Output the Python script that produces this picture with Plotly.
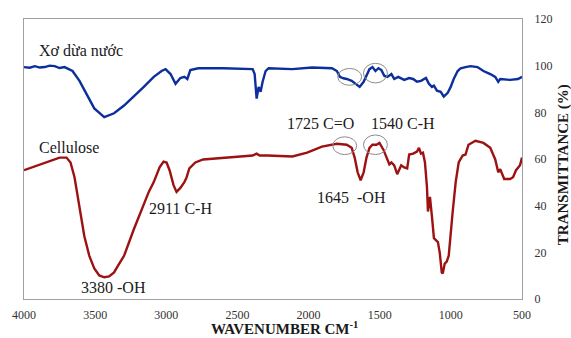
import plotly.graph_objects as go

# FTIR spectra: wavenumber (cm-1) vs transmittance (%)
coir_wn = [4000, 3960, 3923, 3890, 3854, 3820, 3784, 3750, 3715, 3690, 3659, 3610, 3562, 3506,
           3436, 3367, 3297, 3228, 3158, 3088, 3033, 3005, 2970, 2935, 2901, 2873, 2852,
           2831, 2775, 2601, 2393, 2379, 2365, 2351, 2337, 2323, 2302, 2281, 2114, 1975,
           1836, 1801, 1780, 1755, 1732, 1697, 1669, 1641, 1613, 1593, 1572, 1551, 1530,
           1509, 1488, 1467, 1446, 1418, 1398, 1370, 1328, 1293, 1265, 1238, 1210, 1175,
           1154, 1133, 1119, 1098, 1071, 1050, 1022, 1001, 980, 952, 931, 897, 862, 813,
           771, 723, 688, 667, 653, 584, 528, 500]
coir_t = [99.4, 99.1, 99.8, 99.2, 99.4, 100.0, 99.8, 99.0, 99.4, 98.6, 97.7, 93.5, 88.0, 81.7,
          77.9, 79.6, 82.9, 86.7, 90.9, 95.2, 97.7, 98.5, 96.4, 92.2, 94.7, 95.2, 94.3,
          98.1, 98.9, 98.9, 98.5, 96.4, 85.9, 90.9, 88.8, 93.1, 97.7, 98.9, 98.5, 99.2,
          98.9, 97.7, 95.2, 94.6, 94.3, 93.5, 92.2, 90.9, 93.1, 96.0, 98.5, 99.4, 97.7,
          98.9, 98.1, 95.6, 95.2, 96.4, 94.3, 95.2, 93.9, 94.7, 94.3, 93.1, 93.5, 94.7,
          92.2, 90.9, 91.4, 89.3, 88.8, 86.7, 88.4, 90.9, 94.3, 97.7, 98.9, 99.4, 99.8, 99.4,
          97.7, 96.4, 95.2, 93.1, 94.3, 93.9, 94.3, 95.2]

cell_wn = [4000, 3923, 3868, 3784, 3750, 3701, 3673, 3645, 3610, 3576, 3541, 3506, 3471,
           3436, 3402, 3367, 3339, 3297, 3228, 3179, 3123, 3088, 3047, 3019, 2998, 2977,
           2949, 2928, 2901, 2873, 2859, 2838, 2796, 2741, 2601, 2393, 2365, 2344, 2288,
           2114, 2010, 1906, 1801, 1732, 1697, 1676, 1655, 1634, 1613, 1593, 1572, 1551,
           1523, 1502, 1474, 1453, 1432, 1418, 1398, 1377, 1349, 1328, 1307, 1293, 1265,
           1238, 1224, 1210, 1196, 1182, 1168, 1161, 1147, 1133, 1119, 1091, 1078, 1064,
           1057, 1043, 1029, 1015, 1001, 987, 966, 945, 917, 897, 876, 827, 771, 723, 688,
           667, 653, 625, 584, 563, 542, 514, 500]
cell_t = [55.2, 56.8, 58.1, 59.8, 60.6, 60.6, 58.5, 52.2, 39.6, 26.9, 18.5, 13.1, 10.1,
          9.3, 9.7, 11.4, 14.3, 18.5, 29.9, 37.5, 45.9, 50.1, 56.4, 58.9, 58.5, 55.2,
          48.8, 45.9, 47.6, 50.1, 51.8, 56.0, 58.5, 59.8, 60.6, 61.5, 62.3, 61.5, 61.5,
          61.1, 62.7, 65.3, 66.5, 66.1, 64.8, 60.6, 54.3, 50.9, 54.3, 60.6, 64.8, 66.1,
          66.1, 66.9, 64.0, 60.6, 57.7, 58.5, 57.3, 53.5, 57.3, 56.4, 56.0, 61.9, 62.3,
          63.2, 64.8, 62.3, 62.7, 58.5, 48.0, 37.5, 43.8, 35.4, 26.1, 24.4, 19.8, 11.4,
          10.9, 15.2, 16.0, 18.5, 29.1, 37.5, 50.1, 58.5, 61.5, 61.9, 66.1, 67.8, 66.9,
          64.8, 59.8, 54.3, 55.6, 51.4, 51.4, 52.2, 55.2, 57.3, 60.6]

x_ticks = [4000, 3500, 3000, 2500, 2000, 1500, 1000, 500]
y_ticks = [0, 20, 40, 60, 80, 100, 120]

# peak labels: (text, wavenumber, transmittance)
peak_labels = [
    ("Xơ dừa nước", 3596, 106.5),
    ("Cellulose", 3687, 64.8),
    ("3380 -OH", 3374, 5.1),
    ("2911 C-H", 2901, 38.7),
    ("1725 C=O", 1919, 75.4),
    ("1540 C-H", 1335, 75.4),
    ("1645\u00a0 -OH", 1697, 43.4),
]
# highlighted regions: (centre wavenumber, centre transmittance, half width, half height)
rings = [(1711, 95.2, 84, 3.6), (1530, 96.8, 84, 4.2),
         (1746, 65.7, 84, 3.8), (1530, 66.1, 84, 4.2)]

serif = "Liberation Serif, Times New Roman, serif"
fig = go.Figure()
fig.add_trace(go.Scatter(x=coir_wn, y=coir_t, mode="lines",
                         line=dict(color="#0d2f9c", width=2.4), showlegend=False))
fig.add_trace(go.Scatter(x=cell_wn, y=cell_t, mode="lines",
                         line=dict(color="#9c1212", width=2.4), showlegend=False))

for cx, cy, hw, hh in rings:
    fig.add_shape(type="circle", xref="x", yref="y",
                  x0=cx + hw, x1=cx - hw, y0=cy - hh, y1=cy + hh,
                  line=dict(color="#8c8c8c", width=1))

for text, wx, ty in peak_labels:
    fig.add_annotation(x=wx, y=ty, xref="x", yref="y", text=text, showarrow=False,
                       font=dict(family=serif, size=16, color="#1a1a1a"))

fig.add_annotation(x=0.523, y=-0.102, xref="paper", yref="paper",
                   text="<b>WAVENUMBER CM<sup>-1</sup></b>", showarrow=False,
                   xanchor="center", yanchor="middle",
                   font=dict(family=serif, size=15, color="#1a1a1a"))
fig.add_annotation(x=1.0835, y=0.48, xref="paper", yref="paper",
                   text="<b>TRANSMITTANCE (%)</b>", showarrow=False, textangle=-90,
                   xanchor="center", yanchor="middle",
                   font=dict(family=serif, size=15, color="#1a1a1a"))

fig.update_layout(
    width=571, height=338,
    margin=dict(l=19, r=49, t=14, b=39),
    paper_bgcolor="white", plot_bgcolor="white",
    font=dict(family=serif, size=12, color="#333333"),
)
fig.update_xaxes(range=[4000, 500], tickvals=x_ticks, showgrid=False, zeroline=False,
                 showline=True, linecolor="#a0a0a0", linewidth=1, mirror=True,
                 ticks="", ticklabelstandoff=5)
fig.update_yaxes(range=[0, 120], tickvals=y_ticks, side="right", showgrid=False,
                 zeroline=False, showline=True, linecolor="#a0a0a0", linewidth=1,
                 mirror=True, ticks="", ticklabelstandoff=9)

fig.write_html("out.html")
